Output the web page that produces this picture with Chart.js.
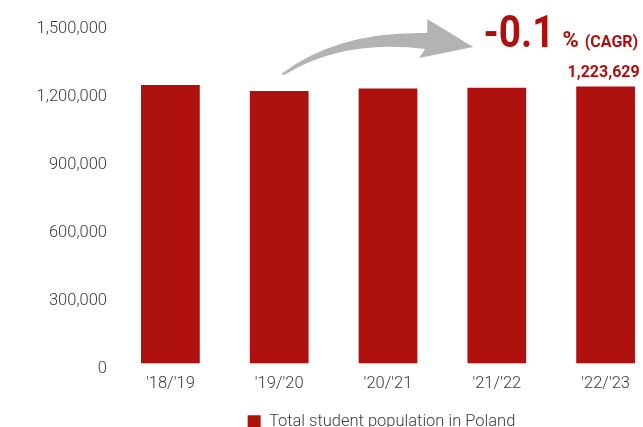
<!DOCTYPE html>
<html>
<head>
<meta charset="utf-8">
<script src="https://cdn.jsdelivr.net/npm/chart.js@4/dist/chart.umd.min.js"></script>
<style>
html, body { margin: 0; padding: 0; background: #fff; overflow: hidden; }
#wrap { width: 763px; height: 440px; }
</style>
</head>
<body>
<div id="wrap"><canvas id="students"></canvas></div>
<script>
var years = ["'18/'19", "'19/'20", "'20/'21", "'21/'22", "'22/'23"];
var students = [1230254, 1204038, 1215301, 1218000, 1223629];
var yTicks = [0, 300000, 600000, 900000, 1200000, 1500000];
var seriesName = 'Total student population in Poland';

var red = '#ae100e';
var grey = '#3a3a3a';
var fontFamily = 'Roboto, "Open Sans", sans-serif';
var labelFont = { family: fontFamily, size: 16.5, weight: 300 };

function fmt(v) {
    return v.toLocaleString('en-US');
}

// compound annual growth between first and last season
function cagr(values) {
    var n = values.length - 1;
    return (Math.pow(values[n] / values[0], 1 / n) - 1) * 100;
}

var extras = {
    id: 'extras',
    afterLayout: function(chart) {
        // legend sits centred on the whole canvas, not the padded area
        chart.legend.left = 0;
        chart.legend.right = chart.width;
    },
    afterDatasetsDraw: function(chart) {
        var ctx = chart.ctx;
        var meta = chart.getDatasetMeta(0);
        var last = meta.data[meta.data.length - 1];
        var y = chart.scales.y;

        ctx.save();

        // value on top of the latest bar
        ctx.fillStyle = red;
        ctx.font = 'bold 16px ' + fontFamily;
        ctx.textAlign = 'center';
        ctx.textBaseline = 'bottom';
        ctx.fillText(fmt(students[students.length - 1]), last.x - 2, last.y - 6);

        // growth headline (narrowed a little, like a condensed face)
        var base = y.getPixelForValue(1400000);
        var rate = cagr(students).toFixed(1);
        var x0 = last.x - 122;
        ctx.textAlign = 'left';
        ctx.textBaseline = 'alphabetic';
        ctx.save();
        ctx.translate(x0, base);
        ctx.scale(0.86, 1);
        ctx.font = 'bold 45px ' + fontFamily;
        ctx.fillText(rate, 0, 0);
        var w = ctx.measureText(rate).width * 0.86;
        ctx.restore();
        ctx.font = 'bold 22px ' + fontFamily;
        ctx.fillText('%', x0 + w + 8, base);
        var w2 = ctx.measureText('%').width;
        ctx.font = 'bold 16px ' + fontFamily;
        ctx.fillText('(CAGR)', x0 + w + 8 + w2 + 6, base);

        // curved arrow from the second season towards the headline
        var a = meta.data[1];
        var ox = a.x, oy = a.y;
        ctx.fillStyle = '#b3b3b3';
        ctx.beginPath();
        ctx.moveTo(ox + 2, oy - 17);
        ctx.quadraticCurveTo(ox + 58, oy - 60, ox + 148, oy - 58);
        ctx.lineTo(ox + 148, oy - 72);
        ctx.lineTo(ox + 194, oy - 44);
        ctx.lineTo(ox + 140, oy - 33);
        ctx.lineTo(ox + 146, oy - 42);
        ctx.quadraticCurveTo(ox + 64, oy - 52, ox + 5, oy - 16);
        ctx.closePath();
        ctx.fill();

        ctx.restore();
    }
};

new Chart(document.getElementById('students'), {
    type: 'bar',
    data: {
        labels: years,
        datasets: [{
            label: seriesName,
            data: students,
            backgroundColor: red,
            borderWidth: 0,
            categoryPercentage: 1,
            barPercentage: 0.54
        }]
    },
    options: {
        responsive: true,
        maintainAspectRatio: false,
        animation: false,
        layout: { padding: { top: 24, right: 103, left: 0, bottom: 0 } },
        scales: {
            x: {
                grid: { display: false, drawTicks: false },
                border: { display: false },
                ticks: { color: grey, padding: 10, font: labelFont },
                afterFit: function(s) { s.height = 40; }
            },
            y: {
                min: 0,
                max: 1500000,
                afterBuildTicks: function(s) {
                    s.ticks = yTicks.map(function(v) { return { value: v }; });
                },
                grid: { display: false, drawTicks: false },
                border: { display: false },
                ticks: {
                    color: grey,
                    padding: 9,
                    labelOffset: 5,
                    font: labelFont,
                    callback: function(v) { return fmt(v); }
                },
                afterFit: function(s) { s.width = 116; }
            }
        },
        plugins: {
            legend: {
                position: 'bottom',
                labels: {
                    color: grey,
                    boxWidth: 13,
                    boxHeight: 13,
                    padding: 10,
                    font: labelFont
                }
            },
            tooltip: { enabled: false }
        }
    },
    plugins: [extras]
});
</script>
</body>
</html>
